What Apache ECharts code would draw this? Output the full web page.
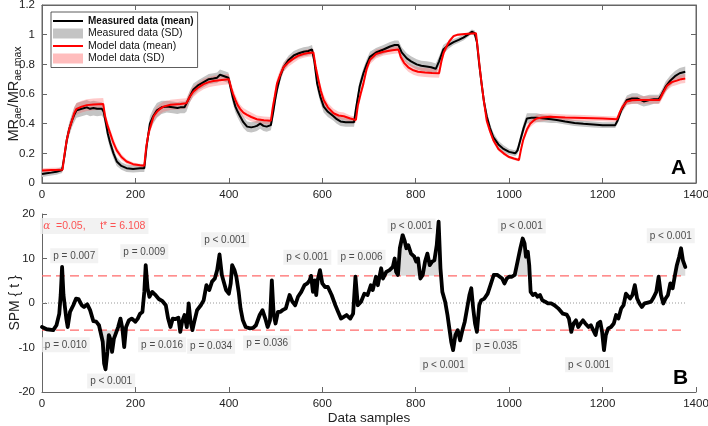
<!DOCTYPE html>
<html><head><meta charset="utf-8">
<script src="https://cdn.jsdelivr.net/npm/echarts@6.0.0/dist/echarts.min.js"></script>
<style>html,body{margin:0;padding:0;background:#fff}#c{width:708px;height:426px}</style>
</head><body><div id="c"></div><script>
// ---------- Panel A: measured data ----------
const measX = [0,10,20,31,43,48,53,58,64,69,74,85,96,103,110,118,128,132,137,141,146,153,160,170,181,195,210,219,224,231,238,246,256,267,280,290,296,305,309,316,324,335,346,357,367,375,381,390,399,404,409,414,419,424,431,439,448,455,460,467,474,481,490,495,499,503,510,517,528,539,550,560,570,578,583,589,596,603,612,624,631,639,650,660,668,672,680,688,695,702,715,731,745,755,763,770,781,790,802,812,823,833,843,850,859,870,881,892,902,912,920,926,931,936,941,946,952,959,966,977,988,1000,1013,1018,1024,1031,1038,1048,1059,1075,1090,1102,1120,1140,1159,1180,1200,1215,1227,1232,1240,1252,1263,1274,1281,1288,1300,1310,1320,1327,1335,1345,1355,1365,1377];
const measMean = [0.06,0.065,0.07,0.076,0.088,0.18,0.29,0.36,0.42,0.46,0.49,0.50,0.51,0.50,0.505,0.50,0.50,0.48,0.40,0.33,0.27,0.20,0.145,0.115,0.10,0.095,0.10,0.10,0.25,0.40,0.45,0.49,0.51,0.515,0.51,0.505,0.51,0.51,0.52,0.58,0.63,0.66,0.68,0.70,0.705,0.71,0.73,0.72,0.71,0.64,0.57,0.515,0.48,0.45,0.41,0.38,0.375,0.38,0.385,0.40,0.385,0.38,0.39,0.48,0.56,0.63,0.72,0.78,0.83,0.86,0.875,0.885,0.89,0.90,0.82,0.67,0.58,0.515,0.48,0.45,0.43,0.415,0.41,0.41,0.41,0.50,0.65,0.74,0.80,0.85,0.88,0.90,0.92,0.93,0.93,0.88,0.84,0.82,0.80,0.79,0.785,0.78,0.77,0.82,0.90,0.93,0.95,0.965,0.98,1.00,1.02,1.01,0.95,0.80,0.67,0.55,0.45,0.37,0.31,0.26,0.23,0.21,0.20,0.22,0.29,0.37,0.435,0.44,0.44,0.435,0.43,0.425,0.415,0.405,0.40,0.395,0.39,0.39,0.39,0.42,0.49,0.56,0.57,0.57,0.56,0.55,0.56,0.565,0.565,0.60,0.65,0.69,0.72,0.74,0.75];
const measSD = [0.02,0.02,0.02,0.02,0.02,0.03,0.04,0.045,0.045,0.05,0.05,0.05,0.05,0.05,0.05,0.05,0.045,0.045,0.045,0.04,0.04,0.035,0.03,0.025,0.025,0.025,0.025,0.025,0.04,0.05,0.05,0.05,0.045,0.04,0.04,0.04,0.04,0.04,0.04,0.04,0.04,0.035,0.035,0.035,0.035,0.035,0.035,0.035,0.035,0.04,0.04,0.04,0.04,0.04,0.04,0.035,0.035,0.035,0.035,0.035,0.035,0.035,0.035,0.04,0.04,0.04,0.035,0.03,0.03,0.03,0.03,0.03,0.03,0.03,0.035,0.04,0.04,0.04,0.035,0.03,0.03,0.03,0.03,0.03,0.03,0.035,0.04,0.035,0.035,0.035,0.03,0.03,0.03,0.03,0.03,0.035,0.035,0.035,0.035,0.035,0.035,0.035,0.035,0.035,0.03,0.025,0.02,0.02,0.02,0.015,0.015,0.02,0.03,0.04,0.04,0.04,0.035,0.03,0.03,0.025,0.025,0.02,0.02,0.025,0.03,0.035,0.035,0.03,0.03,0.025,0.025,0.02,0.02,0.02,0.02,0.02,0.02,0.02,0.02,0.02,0.025,0.03,0.035,0.035,0.035,0.035,0.035,0.03,0.03,0.03,0.035,0.035,0.035,0.035,0.035,0.035];
// ---------- Panel A: model data ----------
const modelX = [0,20,44,48,53,58,64,69,74,85,96,110,131,135,140,146,153,160,170,181,195,210,219,223,228,234,239,246,253,260,275,296,309,316,324,335,346,357,367,385,400,405,409,414,419,424,431,439,448,460,475,490,494,498,503,510,517,528,539,550,560,570,581,586,592,597,603,612,624,635,646,660,672,676,682,688,695,702,715,731,750,763,768,775,784,795,805,820,835,850,855,860,866,873,881,890,905,929,933,937,941,946,952,959,966,977,988,1000,1010,1021,1025,1030,1038,1045,1052,1059,1070,1088,1120,1160,1200,1231,1236,1242,1252,1263,1274,1300,1322,1328,1338,1348,1359,1368,1377];
const modelMean = [0.085,0.088,0.09,0.19,0.29,0.36,0.42,0.47,0.50,0.515,0.525,0.53,0.533,0.45,0.39,0.335,0.27,0.22,0.175,0.145,0.127,0.12,0.117,0.24,0.335,0.40,0.45,0.48,0.50,0.515,0.527,0.533,0.537,0.58,0.615,0.645,0.667,0.68,0.688,0.695,0.70,0.64,0.60,0.56,0.525,0.50,0.475,0.46,0.445,0.43,0.423,0.42,0.51,0.58,0.67,0.73,0.78,0.815,0.84,0.86,0.87,0.876,0.88,0.78,0.69,0.62,0.56,0.51,0.47,0.455,0.45,0.435,0.425,0.52,0.60,0.67,0.77,0.83,0.87,0.885,0.895,0.90,0.85,0.81,0.78,0.76,0.75,0.745,0.742,0.74,0.82,0.88,0.92,0.96,0.99,1.0,1.005,1.01,0.90,0.78,0.67,0.55,0.42,0.35,0.29,0.23,0.20,0.175,0.165,0.155,0.22,0.29,0.36,0.40,0.42,0.435,0.442,0.447,0.442,0.438,0.434,0.43,0.47,0.51,0.55,0.558,0.56,0.56,0.56,0.60,0.655,0.68,0.69,0.70,0.705];
const modelSD = [0.015,0.015,0.015,0.025,0.03,0.035,0.035,0.04,0.04,0.04,0.04,0.04,0.04,0.035,0.035,0.03,0.03,0.025,0.02,0.015,0.012,0.01,0.01,0.02,0.03,0.035,0.035,0.035,0.035,0.035,0.035,0.035,0.035,0.035,0.035,0.035,0.035,0.035,0.035,0.035,0.035,0.035,0.035,0.035,0.035,0.03,0.03,0.03,0.03,0.025,0.025,0.025,0.03,0.035,0.035,0.035,0.03,0.03,0.03,0.025,0.025,0.025,0.025,0.03,0.035,0.035,0.035,0.03,0.03,0.025,0.025,0.02,0.02,0.025,0.03,0.03,0.03,0.03,0.03,0.025,0.025,0.025,0.03,0.03,0.03,0.03,0.03,0.03,0.03,0.03,0.03,0.025,0.02,0.015,0.01,0.008,0.006,0.006,0.015,0.02,0.025,0.025,0.025,0.02,0.02,0.015,0.012,0.01,0.01,0.01,0.015,0.02,0.025,0.025,0.025,0.025,0.025,0.022,0.02,0.02,0.018,0.018,0.02,0.025,0.025,0.025,0.025,0.025,0.025,0.03,0.03,0.03,0.03,0.03,0.03];
// ---------- Panel B: SPM{t} ----------
const spmX = [0,10,24,31,37,40,43,46,52,55,60,67,73,78,85,90,97,103,110,116,122,126,130,133,136,140,143,146,150,154,158,163,168,172,176,180,186,192,200,205,210,215,219,222,226,230,236,242,250,258,265,270,275,280,286,292,296,300,305,310,314,318,322,326,332,340,346,352,358,364,370,375,380,385,389,394,400,404,407,412,416,421,425,430,436,445,452,458,466,472,478,483,488,492,496,500,505,510,515,522,530,536,542,548,555,562,568,573,576,580,584,587,590,595,600,606,612,620,628,634,640,646,652,660,666,671,676,683,690,697,704,708,715,719,726,730,737,744,751,755,758,762,766,772,776,780,784,790,797,801,805,810,815,820,825,830,835,840,845,849,853,857,863,868,872,876,880,885,890,895,900,905,910,915,919,923,927,931,936,940,947,954,960,967,975,980,985,990,995,1000,1006,1012,1018,1024,1029,1033,1036,1040,1043,1046,1051,1056,1061,1066,1071,1077,1083,1090,1097,1105,1115,1123,1128,1133,1138,1143,1148,1153,1158,1163,1170,1175,1180,1185,1190,1195,1199,1203,1207,1212,1218,1224,1229,1234,1240,1245,1250,1254,1259,1264,1269,1274,1279,1284,1290,1297,1304,1310,1315,1320,1325,1330,1335,1340,1345,1350,1355,1359,1364,1368,1372,1377];
const spmT = [-5.4,-5.9,-6.1,-5.0,-2.4,1.8,8.1,1.8,-3.5,-5.4,-2.0,-0.5,1.0,0.9,-0.5,-0.9,-0.3,-1.6,-4.1,-4.2,-5.0,-4.6,-8.7,-13.6,-14.9,-11,-7.2,-8,-11,-8,-8,-5.4,-3.5,-5.7,-9.9,-5.4,-3.9,-3.5,-4.2,-3.5,-2.4,-2.0,2.5,8.5,3.3,1.4,2.5,1.9,0.9,0.4,-0.5,-3.5,-5.4,-3.5,-3.6,-3.3,-6.5,-4.2,-2.7,-5.4,-0.1,-4.2,-6.1,-4.2,-1.6,-0.5,0.6,4.0,2.9,4.8,5.5,7.4,10.9,6.3,4.8,2.9,2.1,4.4,8.5,7.4,5.9,2.5,-1.2,-3.9,-5.4,-5.7,-5.6,-5.0,-2.7,-1.6,-3.5,-5.4,-3.9,5.1,-2.7,-4.6,-2.0,-2.0,-1.6,-1.2,1.8,0.3,-0.5,1.4,2.5,4.0,4.4,5.1,6.1,2.5,5.1,1.8,5.1,7.4,4.4,3.6,3.6,1.8,-0.5,-2.0,-3.5,-3.1,-2.7,-3.5,-2.4,5.9,-0.5,0.3,2.1,1.8,4.0,2.9,5.9,4.0,7.8,5.5,7.0,7.4,8.1,10.0,7.0,6.3,12.3,15.3,14.1,12.3,13.0,11.1,10.4,9.3,10.0,5.5,6.3,9.3,11.1,8.5,9.3,9.6,13.0,18.3,7.8,2.5,0.3,-2.7,-5.7,-8.7,-10.6,-7.2,-6.1,-8.4,-6.1,-4.2,-1.2,1.8,3.3,-1.2,-4.6,-6.5,-0.5,0.6,1.0,2.1,4.0,6.3,6.3,5.9,5.5,4.4,5.5,5.9,5.9,6.3,9.3,12.3,14.5,13.4,10.4,11.5,8.5,2.5,1.8,2.1,1.4,1.8,0.6,0.3,-0.1,-0.1,-0.5,-1.2,-2.4,-2.6,-3.5,-6.5,-4.6,-3.9,-5.4,-4.6,-3.9,-4.6,-5.4,-5.0,-6.1,-7.2,-4.6,-4.2,-6.5,-10.6,-7.2,-5.7,-5.4,-4.6,-2.7,-3.5,-1.2,-0.5,2.1,2.5,1.0,1.8,4.0,1.0,-0.1,-0.9,-0.1,0.1,0.3,1.4,2.5,5.9,1.8,-0.1,1.0,1.8,4.4,3.3,6.3,8.5,10.4,12.3,9.6,8.1];
const tStar = 6.108;
// p-value annotations (data coordinates of label centres)
const pLabelText = ['p = 0.007','p = 0.009','p < 0.001','p < 0.001','p = 0.006','p < 0.001','p < 0.001','p < 0.001','p = 0.010','p < 0.001','p = 0.016','p = 0.034','p = 0.036','p < 0.001','p = 0.035','p < 0.001'];
const pLabelX = [69,219,392,568,684,791,1027,1346,51,148,257,362,482,860,973,1171];
const pLabelY = [10.6,11.5,14.2,10.3,10.3,17.3,17.3,15.1,-9.4,-17.5,-9.4,-9.7,-9.0,-13.9,-9.7,-13.9];
// x ticks / y ticks
const xTicks = {min:0, max:1400, interval:200};
const yTicksA = {min:0, max:1.2, interval:0.2};
const yTicksB = {min:-20, max:20, interval:10};

const FONT = "'Liberation Sans', Arial, sans-serif";
const AX = '#666';
const plain = v => String(Math.round(v*1000)/1000);
function axisBase(extra){
  return Object.assign({
    type:'value',
    axisLine:{show:true, onZero:false, lineStyle:{color:AX, width:1}},
    axisTick:{show:true, inside:true, length:5, lineStyle:{color:AX}},
    axisLabel:{color:'#222', fontSize:11.5, fontFamily:FONT, formatter:plain},
    splitLine:{show:false},
    nameMoveOverlap:false
  }, extra);
}
function lbl(margin){ return {color:'#222', fontSize:11.5, fontFamily:FONT, margin, formatter:plain}; }
function bandSeries(name, xs, mean, sd, color, xi, yi, z){
  return {
    type:'custom', name, xAxisIndex:xi, yAxisIndex:yi, silent:true, z,
    data:[[0,0]], itemStyle:{color},
    renderItem(params, api){
      const pts=[];
      for(let i=0;i<xs.length;i++) pts.push(api.coord([xs[i], mean[i]+sd[i]]));
      for(let i=xs.length-1;i>=0;i--) pts.push(api.coord([xs[i], mean[i]-sd[i]]));
      return {type:'polygon', shape:{points:pts}, style:{fill:color}};
    }
  };
}
function clusterFill(xs, ys, t, color){
  return {
    type:'custom', name:'clusters', xAxisIndex:2, yAxisIndex:2, silent:true, z:1,
    data:[[0,0]],
    renderItem(params, api){
      const up=[], lo=[];
      for(let i=0;i<xs.length;i++){ up.push(api.coord([xs[i], Math.max(ys[i], t)])); lo.push(api.coord([xs[i], Math.min(ys[i], -t)])); }
      up.push(api.coord([xs[xs.length-1], t])); up.push(api.coord([xs[0], t]));
      lo.push(api.coord([xs[xs.length-1], -t])); lo.push(api.coord([xs[0], -t]));
      return {type:'group', children:[
        {type:'polygon', shape:{points:up}, style:{fill:color}},
        {type:'polygon', shape:{points:lo}, style:{fill:color}}
      ]};
    }
  };
}
function refLine(name, y, color, type, z){
  return {type:'line', name, xAxisIndex:2, yAxisIndex:2, z, silent:true, showSymbol:false, symbol:'none',
    data:[[spmX[0], y],[spmX[spmX.length-1], y]], lineStyle:{color, type, width:1.2}};
}
const lineIcon = 'path://M0,0h0.01v0.01h-0.01z M0,3.9h30v2.2h-30z M29.99,9.99h0.01v0.01h-0.01z';
const chart = echarts.init(document.getElementById('c'));
chart.setOption({
  animation:false,
  textStyle:{fontFamily:FONT},
  grid:[
    {left:42, top:5, width:654, height:178, show:true, borderColor:AX, borderWidth:1, backgroundColor:'transparent', outerBoundsMode:'none', containLabel:false},
    {left:42, top:214, width:654, height:178, outerBoundsMode:'none', containLabel:false}
  ],
  legend:{
    orient:'vertical', left:51, top:12, padding:[3,4,3,2], itemGap:0.5, itemWidth:30, itemHeight:10,
    backgroundColor:'#fff', borderColor:'#333', borderWidth:0.8,
    textStyle:{fontSize:10.5, lineHeight:12, color:'#111', fontFamily:FONT},
    data:[
      {name:'Measured data (mean)', icon:lineIcon, itemStyle:{color:'#000'}, textStyle:{fontWeight:'bold', fontSize:10}},
      {name:'Measured data (SD)', icon:'rect', itemStyle:{color:'#c4c4c4'}},
      {name:'Model data (mean)', icon:lineIcon, itemStyle:{color:'#ff0000'}},
      {name:'Model data (SD)', icon:'rect', itemStyle:{color:'#ffbdbd'}}
    ]
  },
  xAxis:[
    axisBase(Object.assign({gridIndex:0, position:'bottom', axisLabel:lbl(6)}, xTicks)),
    axisBase(Object.assign({gridIndex:0, position:'top', axisLabel:{show:false}}, xTicks)),
    axisBase(Object.assign({gridIndex:1, position:'bottom', axisLabel:lbl(6),
      name:'Data samples', nameLocation:'middle', nameGap:19, nameTextStyle:{fontSize:13.5, color:'#222'}}, xTicks))
  ],
  yAxis:[
    axisBase(Object.assign({gridIndex:0, position:'left', axisLabel:lbl(7),
      name:'{a|MR}{s|ae}{a|/MR}{s|ae,max}', nameLocation:'middle', nameGap:20,
      nameTextStyle:{color:'#222', rich:{a:{fontSize:14.5, verticalAlign:'top', lineHeight:16, color:'#222'}, s:{fontSize:10.5, verticalAlign:'top', lineHeight:11, padding:[7,0,0,0], color:'#222'}}}}, yTicksA)),
    axisBase(Object.assign({gridIndex:0, position:'right', axisLabel:{show:false}}, yTicksA)),
    axisBase(Object.assign({gridIndex:1, position:'left', axisLabel:lbl(7),
      name:'SPM { t }', nameLocation:'middle', nameGap:20, nameTextStyle:{fontSize:14, color:'#222'}}, yTicksB))
  ],
  series:[
    bandSeries('Measured data (SD)', measX, measMean, measSD, '#c4c4c4', 0, 0, 1),
    bandSeries('Model data (SD)', modelX, modelMean, modelSD, 'rgba(255,90,90,0.33)', 0, 0, 2),
    {type:'line', name:'Measured data (mean)', xAxisIndex:0, yAxisIndex:0, z:3, showSymbol:false, symbol:'none',
      data:measX.map((x,i)=>[x, measMean[i]]), lineStyle:{color:'#000', width:2}, itemStyle:{color:'#000'}},
    {type:'line', name:'Model data (mean)', xAxisIndex:0, yAxisIndex:0, z:4, showSymbol:false, symbol:'none',
      data:modelX.map((x,i)=>[x, modelMean[i]]), lineStyle:{color:'#ff0000', width:2}, itemStyle:{color:'#ff0000'}},
    clusterFill(spmX, spmT, tStar, '#dcdcdc'),
    refLine('tUpper', tStar, '#ff6a6a', [9,5], 2),
    refLine('tLower', -tStar, '#ff6a6a', [9,5], 2),
    refLine('zero', 0, '#999999', [1,2], 2),
    {type:'line', name:'SPM', xAxisIndex:2, yAxisIndex:2, z:3, showSymbol:false, symbol:'none',
      data:spmX.map((x,i)=>[x, spmT[i]]), lineStyle:{color:'#000', width:3.8, cap:'round', join:'round'}},
    {type:'scatter', name:'pvals', xAxisIndex:2, yAxisIndex:2, z:5, symbolSize:1, itemStyle:{color:'rgba(0,0,0,0)'},
      data:pLabelX.map((x,i)=>[x, pLabelY[i]]),
      label:{show:true, position:'inside', formatter:p=>pLabelText[p.dataIndex], fontSize:10, color:'#222',
        backgroundColor:'#efefef', padding:[3,3,2,3], fontFamily:FONT}},
    {type:'scatter', name:'alpha', xAxisIndex:2, yAxisIndex:2, z:5, symbolSize:1, itemStyle:{color:'rgba(0,0,0,0)'},
      data:[[112, 17.3]],
      label:{show:true, position:'inside', formatter:'{g|\u03b1}  =0.05,     t* = 6.108', fontSize:10.5, color:'#ff2a2a',
        backgroundColor:'#efefef', padding:[3,3,2,3], fontFamily:FONT,
        rich:{g:{fontFamily:"'DejaVu Serif', serif", fontStyle:'italic', fontSize:10.5, color:'#ff2a2a'}}}}
  ],
  graphic:[
    {type:'text', left:671, top:158, style:{text:'A', font:"bold 21px 'Liberation Sans', Arial", fill:'#000'}},
    {type:'text', left:673, top:368, style:{text:'B', font:"bold 21px 'Liberation Sans', Arial", fill:'#000'}}
  ]
});
</script></body></html>
